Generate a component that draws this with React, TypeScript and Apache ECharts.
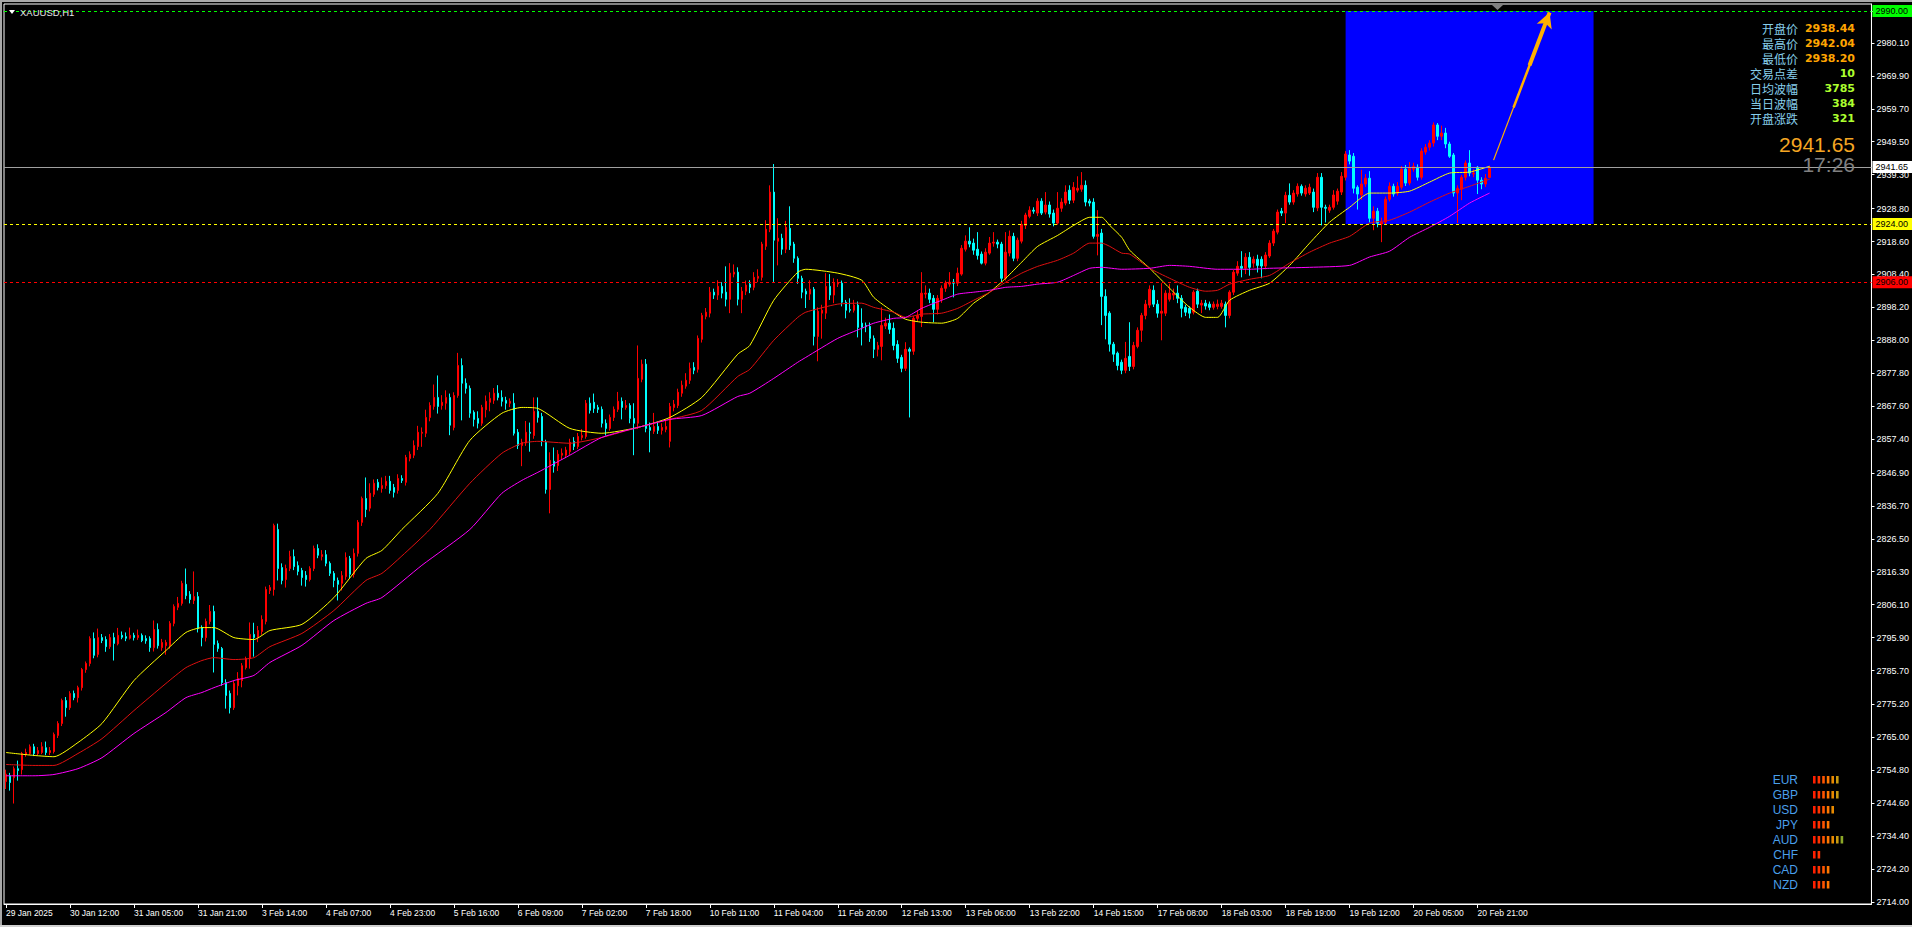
import React, { useEffect, useRef } from 'react';
import * as echarts from 'echarts';

// ---------- axis labels ----------
const xTickLabels = [
  '29 Jan 2025', '30 Jan 12:00', '31 Jan 05:00', '31 Jan 21:00', '3 Feb 14:00', '4 Feb 07:00',
  '4 Feb 23:00', '5 Feb 16:00', '6 Feb 09:00', '7 Feb 02:00', '7 Feb 18:00', '10 Feb 11:00',
  '11 Feb 04:00', '11 Feb 20:00', '12 Feb 13:00', '13 Feb 06:00', '13 Feb 22:00', '14 Feb 15:00',
  '17 Feb 08:00', '18 Feb 03:00', '18 Feb 19:00', '19 Feb 12:00', '20 Feb 05:00', '20 Feb 21:00',
];
const yTickValues = [
  2714.0, 2724.2, 2734.4, 2744.6, 2754.8, 2765.0, 2775.2, 2785.7, 2795.9, 2806.1, 2816.3, 2826.5,
  2836.7, 2846.9, 2857.4, 2867.6, 2877.8, 2888.0, 2898.2, 2908.4, 2918.6, 2928.8, 2939.3, 2949.5,
  2959.7, 2969.9, 2980.1, 2990.0,
];

// ---------- candles: [open, high, low, close] ----------
const candlesA: number[][] = [
  [2751.3, 2755, 2749, 2753.6], [2753.1, 2754, 2748.5, 2751.0], [2752.5, 2756, 2744.5, 2755.3], [2755.3, 2757.8, 2751.6, 2754.7],
  [2755.0, 2760.5, 2753.5, 2760.0], [2759.7, 2761.5, 2759, 2760.3], [2760.0, 2762.8, 2759.5, 2762.1], [2762.1, 2763, 2759.2, 2760.0],
  [2760.0, 2762, 2759.5, 2760.9], [2760.3, 2763.5, 2759.8, 2762.1], [2761.8, 2763.7, 2759.5, 2760.3], [2760.3, 2762, 2759.5, 2760.9],
  [2760.6, 2766.5, 2760, 2765.9], [2765.6, 2770, 2764.8, 2769.3], [2769.3, 2777, 2768.5, 2776.4], [2776.4, 2777.5, 2771.4, 2774.2],
  [2774.2, 2779.3, 2773.5, 2778.6], [2778.6, 2779.5, 2776.5, 2777.3], [2777.3, 2781, 2775.8, 2780.4], [2780.4, 2786.5, 2779.5, 2786.0],
  [2786.0, 2788.5, 2785, 2787.9], [2787.9, 2796.3, 2787, 2795.6], [2795.6, 2797.5, 2789.5, 2790.4], [2790.7, 2798.7, 2789.8, 2795.9],
  [2795.9, 2797.0, 2794.2, 2795.0], [2795.3, 2796.3, 2791.5, 2793.1], [2793.1, 2797, 2792.4, 2795.9], [2795.9, 2797.4, 2788.8, 2794.1],
  [2794.0, 2798.9, 2793.5, 2796.6], [2796.6, 2797.8, 2795.4, 2796.0], [2796.2, 2797.5, 2794.8, 2795.7], [2795.7, 2799, 2795.3, 2796.6],
  [2796.6, 2797.4, 2795, 2795.9], [2795.9, 2798.4, 2795.2, 2796.6], [2796.6, 2797.2, 2794.5, 2795.0], [2795.6, 2796.6, 2794, 2794.9],
  [2795.6, 2796.3, 2791.5, 2792.8], [2792.8, 2801.2, 2791.6, 2798.4], [2798.4, 2800.3, 2792.5, 2793.4], [2792.8, 2795.5, 2791.8, 2794.4],
  [2793.4, 2795.2, 2790.6, 2794.4], [2793.4, 2801, 2792.5, 2800.3], [2800.3, 2806.2, 2799.4, 2805.5], [2805.3, 2808.5, 2804.4, 2806.5],
  [2806.5, 2813.5, 2805.8, 2812.7], [2812.4, 2817.3, 2807.8, 2808.9], [2809.3, 2810.3, 2806.5, 2807.7], [2807.4, 2816.4, 2806.3, 2808.6],
  [2808.6, 2810, 2797.5, 2798.7], [2799.0, 2799.7, 2793.2, 2795.9], [2795.9, 2801.8, 2794.7, 2800.9], [2800.9, 2806, 2800, 2804.0],
  [2804.0, 2805.8, 2785.1, 2793.8], [2794.1, 2795, 2791.5, 2792.5], [2792.5, 2793, 2781, 2782.0], [2782.0, 2783, 2773.9, 2778.0],
  [2778.6, 2779.5, 2772.4, 2774.2], [2774.2, 2782.5, 2773.5, 2781.7], [2781.0, 2785.2, 2778, 2783.2], [2782.6, 2788, 2780.5, 2787.2],
  [2786.6, 2790, 2786, 2789.4], [2789.4, 2800.6, 2786.3, 2796.9], [2796.9, 2800.5, 2790, 2795.9], [2795.9, 2799.5, 2794.5, 2798.1],
  [2797.8, 2802.8, 2796.8, 2801.5], [2800.9, 2811.7, 2800, 2810.8], [2810.5, 2812.2, 2809.4, 2811.4], [2810.8, 2831.2, 2808.9, 2830.6],
  [2829.4, 2831.2, 2813.6, 2817.3], [2817.6, 2818.9, 2812.4, 2813.6], [2813.9, 2818.5, 2811.4, 2817.3], [2817.3, 2822.8, 2816.5, 2821.0],
  [2821.0, 2823.2, 2816.8, 2817.9], [2818.2, 2819.5, 2815.2, 2816.4], [2816.7, 2817.5, 2812.0, 2814.5], [2815.2, 2816.5, 2811.7, 2813.9],
  [2813.9, 2818, 2813.3, 2817.3], [2817.3, 2824.4, 2816.5, 2823.5], [2823.5, 2824.8, 2820.5, 2821.4], [2821.0, 2823, 2819.8, 2821.6],
  [2821.6, 2823, 2818, 2818.9], [2818.9, 2819.5, 2815, 2815.8], [2815.8, 2816.5, 2811.5, 2813.6], [2813.6, 2814.5, 2807.4, 2812.4],
  [2812.7, 2816.5, 2810.5, 2815.1], [2814.8, 2822.3, 2813.8, 2820.7], [2820.4, 2821.2, 2814.3, 2815.5], [2815.5, 2823.5, 2814.5, 2822.0],
  [2822.0, 2832.3, 2821, 2831.6], [2831.6, 2839.6, 2830.5, 2839.0], [2839.0, 2845.5, 2833.2, 2835.6], [2836.0, 2843.7, 2835, 2840.6],
  [2840.3, 2844.9, 2839.5, 2843.7],
];
const candlesB: number[][] = [
  [2844.0, 2845, 2841.5, 2842.4], [2842.1, 2845.5, 2840.8, 2843.0], [2843.0, 2846, 2842, 2844.3], [2844.3, 2846, 2840.5, 2841.5],
  [2842.4, 2843.5, 2839.3, 2840.9], [2841.5, 2846.5, 2840.5, 2845.2], [2845.2, 2846.2, 2843.8, 2844.6], [2844.0, 2852.5, 2843, 2851.7],
  [2851.4, 2853.6, 2850.5, 2852.7], [2852.4, 2857.0, 2851.5, 2855.4], [2855.1, 2861.5, 2854, 2859.5], [2859.2, 2861, 2855, 2859.5],
  [2859.2, 2866.5, 2858, 2864.1], [2864.1, 2868.8, 2862.9, 2867.8], [2867.5, 2874.3, 2866.5, 2870.3], [2870.3, 2877.1, 2865.3, 2867.5],
  [2867.8, 2871, 2866.5, 2868.8], [2868.5, 2872.5, 2866.5, 2870.3], [2870.3, 2871.5, 2858.6, 2861.7], [2861.0, 2871.9, 2860.1, 2870.9],
  [2870.9, 2884.1, 2870.2, 2880.2], [2880.2, 2882.4, 2863.2, 2874.7], [2874.7, 2876.2, 2871.5, 2873.1], [2873.1, 2874, 2864, 2865.4],
  [2865.7, 2866.3, 2861.3, 2863.5], [2863.8, 2866, 2860.7, 2862.3], [2862.3, 2868, 2861.5, 2867.2], [2866.5, 2870.9, 2864.1, 2869.1],
  [2868.8, 2871.9, 2866, 2870.0], [2869.4, 2873.2, 2868.3, 2871.6], [2871.6, 2874.1, 2869.4, 2870.3], [2870.3, 2872.5, 2867.5, 2869.1],
  [2869.4, 2870.5, 2866.5, 2868.5], [2868.5, 2870, 2867.3, 2869.1], [2868.5, 2871.6, 2858.5, 2859.2], [2859.5, 2860.5, 2854.3, 2855.4],
  [2855.4, 2857.5, 2849, 2856.4], [2856.2, 2863, 2855.3, 2859.5], [2859.5, 2862.5, 2853.5, 2859.2], [2858.5, 2870.3, 2857.5, 2866.0],
  [2866.0, 2870.3, 2862.5, 2864.1], [2864.4, 2865.5, 2855.2, 2856.7], [2856.4, 2857.2, 2840.5, 2841.8], [2841.8, 2853.3, 2834.4, 2850.8],
  [2850.5, 2854.8, 2847, 2849.0], [2849.2, 2854, 2847.5, 2852.7], [2852.4, 2854.5, 2851, 2853.0], [2852.4, 2855, 2851.5, 2854.0],
  [2853.5, 2857.5, 2852.5, 2856.4], [2856.7, 2858, 2854, 2855.1], [2855.1, 2859.3, 2854.3, 2858.2], [2857.9, 2860.5, 2857, 2858.5],
  [2858.2, 2869.5, 2857.5, 2868.5], [2868.5, 2870.3, 2865.3, 2866.3], [2868.8, 2871.5, 2865.5, 2866.9], [2867.2, 2868, 2865.5, 2866.6],
  [2866.6, 2867.5, 2861, 2862.3], [2862.3, 2863.5, 2858.5, 2860.7], [2860.7, 2865, 2860, 2864.1], [2864.1, 2867.5, 2863, 2866.6],
  [2866.6, 2872, 2865.8, 2869.1], [2869.1, 2870.3, 2863.5, 2867.2], [2867.2, 2869.5, 2866.5, 2867.8], [2867.8, 2868.5, 2862.3, 2863.8],
  [2863.8, 2868.5, 2852.4, 2862.3], [2862.3, 2886.4, 2860.5, 2876.2], [2875.9, 2882, 2875, 2880.6], [2880.6, 2882.2, 2859.5, 2860.7],
  [2861.0, 2862.5, 2853.3, 2860.1], [2859.8, 2865.5, 2859, 2861.3], [2861.3, 2862.5, 2859, 2860.1], [2860.1, 2862.3, 2858.8, 2861.0],
  [2860.4, 2863.5, 2859.5, 2861.3], [2856.7, 2868.6, 2854.8, 2867.5], [2867.2, 2869.5, 2866, 2868.2], [2867.8, 2873, 2867, 2871.9],
  [2871.6, 2875.5, 2870.5, 2874.1], [2873.8, 2877.8, 2873, 2875.6], [2875.6, 2881.1, 2874.5, 2879.3], [2879.6, 2881.2, 2877.5, 2878.7],
  [2879.0, 2889.5, 2878, 2888.6], [2888.3, 2896.5, 2887.3, 2895.7], [2895.4, 2898, 2894.5, 2896.7], [2896.4, 2904.5, 2895.1, 2902.9],
  [2902.9, 2904, 2900.8, 2902.0], [2902.0, 2906.6, 2900.5, 2904.7], [2904.7, 2906, 2901, 2902.6], [2902.9, 2910.9, 2898.5, 2900.7],
  [2900.7, 2911.9, 2896.4, 2908.8], [2908.5, 2911.5, 2907.5, 2909.1], [2909.1, 2910.6, 2898.8, 2900.7], [2900.7, 2904.5, 2896.4, 2903.2],
  [2903.2, 2906.5, 2902, 2905.1], [2905.4, 2906.6, 2902.6, 2904.4],
];
const candlesC: number[][] = [
  [2904.4, 2909.1, 2903.5, 2907.5], [2907.2, 2910, 2906, 2907.8], [2907.5, 2918.5, 2906.5, 2917.8], [2917.1, 2925.2, 2916, 2922.4],
  [2922.4, 2936.0, 2921.5, 2933.9], [2933.9, 2942.6, 2906.1, 2919.0], [2918.7, 2925.8, 2911.2, 2919.6], [2919.6, 2921, 2914.5, 2916.2],
  [2916.2, 2925, 2915, 2923.0], [2922.7, 2929.5, 2916, 2917.4], [2917.8, 2918.5, 2912, 2913.4], [2913.4, 2914, 2905.5, 2907.2],
  [2907.2, 2908, 2901, 2902.9], [2903.2, 2904, 2898, 2902.3], [2902.3, 2906.6, 2900.5, 2903.8], [2903.8, 2904.5, 2886.4, 2889.2],
  [2889.2, 2898.2, 2881.5, 2897.0], [2896.4, 2899, 2888.5, 2897.3], [2896.4, 2908.8, 2894.6, 2904.7], [2904.7, 2908.5, 2900.5, 2902.0],
  [2902.0, 2907.2, 2899.5, 2905.7], [2905.4, 2907, 2904.5, 2905.7], [2905.7, 2906.5, 2898.5, 2899.8], [2899.8, 2900.5, 2894.8, 2897.3],
  [2897.5, 2901, 2896.6, 2897.3], [2897.3, 2900.5, 2896.6, 2898.9], [2898.9, 2900, 2888.9, 2892.0], [2893.3, 2897.9, 2886.4, 2892.0],
  [2892.6, 2893.5, 2890.5, 2892.3], [2892.3, 2893.5, 2887.5, 2888.6], [2888.6, 2889.5, 2882.5, 2885.2], [2885.2, 2887.5, 2883, 2886.4],
  [2886.1, 2898.2, 2881.8, 2892.6], [2892.4, 2895, 2891.5, 2893.3], [2893.3, 2896, 2890, 2891.4], [2891.7, 2893.5, 2884.9, 2886.4],
  [2886.7, 2888, 2881, 2882.4], [2882.7, 2883.5, 2878.1, 2879.3], [2879.3, 2887.4, 2878.5, 2885.2], [2885.2, 2885.8, 2864.1, 2884.6],
  [2884.6, 2895.5, 2883.5, 2894.8], [2894.8, 2897.3, 2894, 2895.7], [2895.4, 2909.1, 2892.1, 2902.6], [2902.3, 2905, 2901, 2902.6],
  [2902.6, 2904, 2899.5, 2900.7], [2901.0, 2902, 2893.6, 2897.6], [2897.6, 2902, 2896, 2901.0], [2900.7, 2905, 2899.6, 2904.1],
  [2904.1, 2906.5, 2903, 2905.7], [2905.4, 2909.1, 2904.6, 2906.0], [2906.0, 2907, 2901.3, 2905.7], [2905.7, 2910.5, 2904.8, 2908.8],
  [2908.5, 2917.5, 2908, 2916.5], [2916.2, 2920.5, 2915.5, 2918.7], [2918.7, 2923.0, 2916.8, 2917.8], [2918.1, 2919.5, 2914.5, 2915.9],
  [2916.2, 2921.5, 2913, 2914.3], [2914.7, 2915.5, 2911.5, 2911.9], [2911.9, 2916.5, 2911.2, 2915.3], [2915.0, 2920, 2914.5, 2918.1],
  [2918.1, 2921.5, 2917, 2918.4], [2918.4, 2919.2, 2916.5, 2917.8], [2917.8, 2918.5, 2905.7, 2907.2], [2907.2, 2921.5, 2906.5, 2915.3],
  [2915.0, 2922, 2914, 2920.2], [2920.2, 2921.3, 2912.5, 2913.4], [2913.4, 2919.8, 2912.5, 2919.0], [2918.7, 2925, 2918, 2923.9],
  [2923.6, 2927.5, 2922.5, 2926.8], [2926.4, 2929.5, 2925.8, 2928.3], [2928.3, 2929.2, 2927.2, 2928.0], [2927.4, 2932, 2926.5, 2931.1],
  [2931.1, 2932.0, 2926.8, 2927.4], [2927.7, 2933.9, 2927, 2929.9], [2929.9, 2931, 2926, 2927.1], [2927.4, 2928.5, 2923.3, 2924.3],
  [2924.3, 2933.9, 2923.8, 2928.9], [2928.9, 2932, 2927.8, 2930.8], [2930.5, 2936.0, 2929.8, 2933.9], [2934.5, 2936, 2930.2, 2931.4],
  [2931.4, 2937, 2930.5, 2935.4], [2934.5, 2938.8, 2933.8, 2935.1], [2934.8, 2940.1, 2934, 2936.0], [2936.0, 2937.5, 2929.5, 2930.8],
  [2931.1, 2931.8, 2929.5, 2930.5], [2930.8, 2932, 2919.5, 2920.2], [2920.2, 2928.3, 2914.3, 2920.8], [2921.2, 2922.5, 2892.7, 2901.6],
  [2901.6, 2903.8, 2888.3, 2895.7], [2896.4, 2897, 2884.5, 2886.8], [2886.8, 2887.5, 2881.3, 2883.7], [2884.0, 2884.5, 2878.7, 2880.2],
  [2881.2, 2882, 2877.5, 2878.7], [2878.7, 2887.5, 2877.8, 2882.4], [2883.0, 2893.6, 2878.5, 2879.9], [2879.9, 2887.5, 2879, 2886.4],
  [2886.1, 2892, 2885.5, 2891.1],
];
const candlesD: number[][] = [
  [2891.1, 2896.5, 2887.5, 2895.7], [2895.7, 2900.5, 2894.5, 2899.2], [2898.9, 2905, 2898, 2903.8], [2903.5, 2905, 2898.3, 2899.2],
  [2899.2, 2900.5, 2895, 2896.4], [2896.4, 2905.7, 2888.0, 2897.0], [2896.4, 2903.5, 2895.5, 2902.6], [2900.7, 2905.5, 2900, 2902.6],
  [2902.0, 2904, 2900.5, 2902.6], [2902.6, 2905, 2899.5, 2901.0], [2901.0, 2902, 2895.1, 2897.9], [2898.2, 2899, 2895.5, 2896.7],
  [2897.9, 2898.5, 2894.8, 2896.4], [2896.7, 2903.5, 2896, 2902.9], [2903.2, 2904, 2898, 2899.2], [2898.9, 2900.5, 2896.4, 2899.5],
  [2899.5, 2900.5, 2897.5, 2898.6], [2899.2, 2900, 2897.3, 2898.2], [2898.2, 2900, 2897.5, 2899.2], [2898.5, 2900.6, 2897.6, 2899.2],
  [2898.5, 2900.5, 2897.8, 2899.5], [2899.2, 2900, 2892.0, 2895.7], [2895.7, 2903.5, 2894.8, 2902.9], [2902.9, 2909.8, 2902, 2909.1],
  [2908.8, 2912.5, 2908, 2910.9], [2910.9, 2915.6, 2907.5, 2910.3], [2910.3, 2915, 2908.5, 2913.7], [2913.7, 2915.3, 2908, 2910.6],
  [2911.9, 2914, 2910.5, 2913.1], [2913.1, 2914.5, 2909, 2911.2], [2913.1, 2914, 2907.2, 2911.0], [2911.0, 2915.3, 2910, 2914.4],
  [2914.1, 2919, 2913.5, 2918.1], [2918.1, 2922.5, 2917.2, 2921.8], [2921.5, 2928.5, 2920.8, 2927.7], [2928.0, 2929, 2926.5, 2927.4],
  [2927.4, 2934, 2924.3, 2932.9], [2932.9, 2936.6, 2930, 2930.8], [2930.8, 2934.5, 2930, 2933.6], [2933.3, 2936.6, 2932.5, 2935.7],
  [2935.7, 2936.3, 2932.8, 2933.6], [2933.3, 2936, 2932.5, 2935.1], [2933.6, 2936.5, 2933, 2935.4], [2933.9, 2935, 2927.7, 2929.2],
  [2929.0, 2939.8, 2928, 2938.5], [2938.5, 2939.8, 2923.6, 2929.2], [2929.2, 2930, 2924.5, 2928.9], [2928.3, 2930, 2927.5, 2929.2],
  [2929.2, 2934.5, 2928.5, 2933.0], [2931.1, 2935, 2930, 2934.2], [2933.9, 2940.1, 2933, 2938.8], [2938.5, 2946.6, 2937.5, 2945.7],
  [2945.4, 2946.9, 2942.5, 2943.5], [2945.0, 2946, 2933.5, 2935.1], [2935.4, 2936, 2928.5, 2933.3], [2933.0, 2940.8, 2931.5, 2936.4],
  [2936.4, 2939.5, 2935.5, 2938.2], [2938.2, 2940.4, 2924.5, 2925.8], [2925.8, 2929.5, 2922.1, 2928.0], [2928.0, 2929, 2923, 2924.3],
  [2924.0, 2926, 2918.4, 2924.6], [2924.6, 2932.5, 2923.8, 2931.7], [2931.7, 2936.9, 2931, 2935.7], [2935.7, 2936.5, 2932.5, 2933.3],
  [2933.6, 2937, 2932.8, 2935.7], [2935.4, 2942, 2934.7, 2941.0], [2941.0, 2942.3, 2935.8, 2936.7], [2936.7, 2943.2, 2936, 2941.3],
  [2941.0, 2943, 2940.2, 2941.9], [2941.6, 2942.5, 2937.5, 2938.5], [2938.5, 2947.5, 2937.8, 2946.6], [2946.3, 2948.8, 2945.5, 2947.8],
  [2947.8, 2950, 2946.8, 2949.1], [2949.1, 2955.5, 2948, 2954.7], [2954.7, 2955.3, 2950, 2951.2], [2951.2, 2954.5, 2950, 2952.2],
  [2952.2, 2953.8, 2947.5, 2948.8], [2948.8, 2949.5, 2944.5, 2945.0], [2945.4, 2946, 2932.5, 2933.6], [2933.6, 2936, 2924.3, 2935.1],
  [2934.8, 2939.2, 2931.4, 2938.5], [2938.5, 2943.7, 2937.5, 2942.9], [2942.9, 2946.9, 2938.8, 2939.8], [2939.5, 2941, 2938.5, 2939.8],
  [2941.6, 2942, 2933.3, 2937.6], [2937.6, 2938.5, 2934.8, 2936.4], [2936.4, 2939.5, 2935.5, 2938.2], [2938.44, 2942.04, 2938.2, 2941.65],
];

// ---------- moving averages: [bar index, price] ----------
const maYellow: number[][] = [
  [0, 2760.3], [7, 2759.4], [12, 2759.0], [18, 2763.4], [24, 2769.3], [32, 2782.6], [40, 2791.9], [45, 2797.5], [49, 2799.0],
  [52, 2799.0], [57, 2795.9], [62, 2795.3], [66, 2798.1], [74, 2800.0], [82, 2808.3], [90, 2820.4], [94, 2822.9], [99, 2829.4],
  [108, 2840.6], [116, 2857.0], [124, 2865.4], [129, 2867.2], [133, 2866.9], [141, 2860.7], [149, 2859.2], [158, 2861.0],
  [166, 2864.1], [174, 2870.3], [183, 2883.7], [186, 2886.4], [192, 2900.4], [198, 2909.1], [200, 2910.0], [208, 2908.8],
  [214, 2906.6], [217, 2901.3], [222, 2896.7], [225, 2894.5], [229, 2893.6], [234, 2893.3], [238, 2894.8], [242, 2899.5],
  [246, 2902.9], [250, 2907.2], [254, 2912.2], [258, 2917.1], [263, 2920.5], [267, 2923.6], [271, 2926.1], [274, 2926.1],
  [276, 2923.6], [279, 2919.9], [281, 2915.9], [286, 2910.3], [291, 2904.1], [296, 2898.2], [300, 2895.1], [303, 2895.1],
  [306, 2900.4], [311, 2903.5], [316, 2905.7], [321, 2911.2], [326, 2918.1], [331, 2924.6], [336, 2929.2], [341, 2933.6],
  [346, 2933.6], [351, 2934.2], [356, 2937.0], [361, 2939.8], [366, 2940.1], [371, 2941.9],
];
const maRed: number[][] = [
  [0, 2756.6], [7, 2756.3], [12, 2756.3], [18, 2760.0], [24, 2764.6], [32, 2773.3], [40, 2781.7], [45, 2786.6], [49, 2788.8],
  [52, 2789.7], [57, 2789.1], [62, 2789.7], [66, 2793.1], [74, 2797.2], [82, 2804.3], [90, 2813.6], [94, 2815.8], [99, 2821.2],
  [106, 2829.4], [116, 2843.7], [124, 2853.0], [129, 2856.1], [133, 2856.7], [141, 2856.1], [149, 2857.9], [158, 2861.0],
  [166, 2863.5], [174, 2866.3], [183, 2876.8], [186, 2879.0], [192, 2888.0], [198, 2895.1], [200, 2896.7], [208, 2899.2],
  [214, 2899.5], [217, 2898.2], [222, 2896.7], [225, 2895.1], [229, 2896.1], [234, 2896.4], [238, 2897.9], [242, 2900.4],
  [246, 2902.9], [250, 2906.0], [254, 2908.8], [258, 2910.9], [263, 2912.8], [267, 2915.0], [271, 2918.1], [274, 2918.1],
  [276, 2917.1], [279, 2915.0], [281, 2914.7], [286, 2910.3], [291, 2907.2], [296, 2904.4], [300, 2903.2], [303, 2903.5],
  [306, 2905.4], [311, 2906.9], [316, 2908.1], [321, 2911.9], [326, 2915.3], [331, 2918.1], [336, 2920.2], [341, 2924.3],
  [346, 2925.2], [351, 2927.7], [356, 2930.8], [361, 2933.6], [366, 2935.7], [371, 2937.9],
];
const maMagenta: number[][] = [
  [0, 2753.1], [7, 2753.1], [12, 2753.5], [18, 2755.3], [24, 2758.7], [32, 2766.2], [40, 2772.7], [45, 2777.3], [49, 2778.9],
  [52, 2780.4], [57, 2782.6], [62, 2784.2], [66, 2788.2], [74, 2793.5], [82, 2801.2], [90, 2806.5], [94, 2808.3], [104, 2818.3],
  [116, 2829.4], [124, 2840.6], [129, 2844.6], [133, 2847.1], [141, 2852.4], [149, 2857.9], [158, 2861.0], [166, 2863.5],
  [174, 2864.7], [183, 2870.6], [186, 2871.6], [192, 2876.2], [198, 2881.2], [200, 2882.7], [208, 2888.6], [214, 2891.7],
  [217, 2893.3], [222, 2894.8], [225, 2895.1], [229, 2897.9], [234, 2900.4], [238, 2902.3], [242, 2902.9], [246, 2903.5],
  [250, 2904.4], [254, 2904.7], [258, 2905.4], [263, 2906.0], [267, 2908.1], [271, 2910.3], [274, 2910.6], [279, 2910.0],
  [286, 2910.3], [291, 2911.2], [296, 2910.9], [303, 2910.0], [311, 2910.0], [316, 2910.3], [326, 2910.6], [336, 2911.2],
  [341, 2913.8], [346, 2915.6], [351, 2919.9], [356, 2923.0], [361, 2926.4], [366, 2930.5], [371, 2933.6],
];

// ---------- levels & annotations ----------
const levelPrices = [2990.0, 2924.0, 2906.0];
const levelColors = ['#00FF00', '#FFFF00', '#FF0000'];
const lastPrice = 2941.65;
const countdown = '17:26';
const zoneBars = [335, 397];
const zonePrices = [2990.0, 2924.0];
// arrow drawn as three overlapping segments along the same line (tapered look)
const arrowTip = [386, 2989.5];
const arrowStarts = [[372, 2943.8], [377, 2960.1], [381, 2973.2]];
const arrowWidths = [1.2, 2.5, 4];

const infoLabels = ['开盘价', '最高价', '最低价', '交易点差', '日均波幅', '当日波幅', '开盘涨跌'];
const infoValues = ['2938.44', '2942.04', '2938.20', '10', '3785', '384', '321'];
const infoValueColors = ['#FFA500', '#FFA500', '#FFA500', '#ADFF2F', '#ADFF2F', '#ADFF2F', '#ADFF2F'];

const currencies = ['EUR', 'GBP', 'USD', 'JPY', 'AUD', 'CHF', 'CAD', 'NZD'];
const strengths = [6, 6, 5, 4, 7, 2, 4, 4];
const strengthColors = ['#FF1E00', '#FF3300', '#FF5500', '#FF7700', '#E88A00', '#C89A10', '#8CA828'];

const TOTAL_SLOTS = 467;
const LABEL_STEP = 16;

export default function App() {
  const ref = useRef<HTMLDivElement>(null);

  useEffect(() => {
    if (!ref.current) return;
    const chart = echarts.init(ref.current, null, { renderer: 'svg' });

    const candles = [...candlesA, ...candlesB, ...candlesC, ...candlesD];
    const kData = candles.map((c) => [c[0], c[3], c[2], c[1]]);
    const categories = Array.from({ length: TOTAL_SLOTS }, (_, i) => String(i));
    const showTick = (i: number) => i % LABEL_STEP === 0 && i / LABEL_STEP < xTickLabels.length;

    const levelLines = levelPrices.map((p, k) => ({
      yAxis: p,
      lineStyle: { color: levelColors[k], type: [3, 3], width: 1 },
      label: {
        show: true,
        position: 'end',
        distance: 1,
        formatter: p.toFixed(2),
        color: '#000',
        backgroundColor: levelColors[k],
        padding: [2, 4, 1, 3],
        fontSize: 9,
        fontFamily: 'Liberation Sans',
      },
    }));

    const arrowLines = arrowStarts.map((s, k) => [
      { coord: s, symbol: 'none', lineStyle: { color: '#FFB000', width: arrowWidths[k], type: 'solid' }, label: { show: false } },
      {
        coord: arrowTip,
        symbol: k === arrowStarts.length - 1 ? 'arrow' : 'none',
        symbolSize: [12, 15],
        lineStyle: { color: '#FFB000', width: arrowWidths[k], type: 'solid' },
        label: { show: false },
      },
    ]);

    const graphics: any[] = [];
    // window frame
    graphics.push({ type: 'rect', shape: { x: 0, y: 0, width: 1912, height: 2 }, style: { fill: '#A8A8A8' }, z: 100 });
    graphics.push({ type: 'rect', shape: { x: 0, y: 0, width: 2, height: 927 }, style: { fill: '#A8A8A8' }, z: 100 });
    graphics.push({ type: 'rect', shape: { x: 0, y: 925, width: 1912, height: 2 }, style: { fill: '#D0D0D0' }, z: 100 });
    // title
    graphics.push({ type: 'polygon', shape: { points: [[9, 10], [15, 10], [12, 14]] }, style: { fill: '#FFFFFF' }, z: 100 });
    graphics.push({
      type: 'text', x: 20, y: 12, z: 100,
      style: { text: 'XAUUSD,H1', fill: '#E6E6E6', font: '9.5px "Liberation Sans"', verticalAlign: 'middle', align: 'left' },
    });
    // chart-shift marker
    graphics.push({ type: 'polygon', shape: { points: [[1492, 5], [1503, 5], [1497.5, 10]] }, style: { fill: '#808080' }, z: 100 });
    // info panel
    infoLabels.forEach((t, k) => {
      const y = 28.7 + k * 14.93;
      graphics.push({
        type: 'text', x: 1798, y, z: 100,
        style: { text: t, fill: '#87CEEB', font: '12px "Noto Sans CJK SC"', align: 'right', verticalAlign: 'middle' },
      });
      graphics.push({
        type: 'text', x: 1855, y, z: 100,
        style: { text: infoValues[k], fill: infoValueColors[k], font: 'bold 11px "DejaVu Sans"', align: 'right', verticalAlign: 'middle' },
      });
    });
    graphics.push({
      type: 'text', x: 1855, y: 144, z: 100,
      style: { text: lastPrice.toFixed(2), fill: '#F5A623', font: '21px "Liberation Sans"', align: 'right', verticalAlign: 'middle' },
    });
    graphics.push({
      type: 'text', x: 1855, y: 164, z: 100,
      style: { text: countdown, fill: '#808080', font: '21px "Liberation Sans"', align: 'right', verticalAlign: 'middle' },
    });
    // currency strength legend
    currencies.forEach((c, k) => {
      const y = 779.5 + k * 15;
      graphics.push({
        type: 'text', x: 1798, y, z: 100,
        style: { text: c, fill: '#4A9FEA', font: '12px "Liberation Sans"', align: 'right', verticalAlign: 'middle' },
      });
      for (let j = 0; j < strengths[k]; j++) {
        graphics.push({
          type: 'rect', z: 100,
          shape: { x: 1813 + j * 4.6, y: y - 3.5, width: 2.6, height: 7.5 },
          style: { fill: strengthColors[j] },
        });
      }
    });

    const option: any = {
      animation: false,
      backgroundColor: '#000000',
      grid: {
        left: 4, top: 4, width: 1868, height: 900,
        show: true, borderColor: '#FFFFFF', borderWidth: 1, backgroundColor: 'transparent',
      },
      xAxis: {
        type: 'category',
        data: categories,
        boundaryGap: true,
        axisLine: { show: true, lineStyle: { color: '#FFFFFF', width: 1 } },
        axisTick: { show: true, alignWithLabel: true, interval: (i: number) => showTick(i), length: 4, lineStyle: { color: '#FFFFFF' } },
        axisLabel: {
          show: true,
          interval: (i: number) => showTick(i),
          formatter: (_v: string, i: number) => (showTick(i) ? xTickLabels[i / LABEL_STEP] : ''),
          color: '#FFFFFF',
          fontSize: 8.5,
          fontFamily: 'Liberation Sans',
          align: 'left',
          margin: 4,
          hideOverlap: false,
        },
        splitLine: { show: false },
      },
      yAxis: {
        type: 'value',
        position: 'right',
        min: 2713.38,
        max: 2992.17,
        scale: true,
        splitLine: { show: false },
        axisLine: { show: true, lineStyle: { color: '#FFFFFF', width: 1 } },
        axisTick: { show: true, customValues: yTickValues, length: 3, lineStyle: { color: '#FFFFFF' } },
        axisLabel: {
          show: true,
          customValues: yTickValues,
          formatter: (v: number) => v.toFixed(2),
          color: '#FFFFFF',
          fontSize: 9,
          fontFamily: 'Liberation Sans',
          margin: 5,
        },
      },
      series: [
        {
          type: 'line',
          name: 'zone',
          z: 1,
          data: [],
          silent: true,
          markArea: {
            silent: true,
            itemStyle: { color: '#0000FF', opacity: 1 },
            data: [[{ coord: [zoneBars[0], zonePrices[0]] }, { coord: [zoneBars[1], zonePrices[1]] }]],
          },
        },
        {
          type: 'candlestick',
          name: 'XAUUSD',
          z: 3,
          barWidth: 2,
          data: kData,
          itemStyle: {
            color: '#FF0000', color0: '#00FFFF',
            borderColor: '#FF0000', borderColor0: '#00FFFF', borderWidth: 1,
          },
          markLine: {
            silent: true,
            symbol: ['none', 'none'],
            precision: 2,
            data: [
              ...levelLines,
              {
                yAxis: lastPrice,
                lineStyle: { color: '#A0A0A0', type: 'solid', width: 1 },
                label: {
                  show: true, position: 'end', distance: 1, formatter: lastPrice.toFixed(2),
                  color: '#000', backgroundColor: '#FFFFFF', padding: [2, 4, 1, 3], fontSize: 9, fontFamily: 'Liberation Sans',
                },
              },
              ...arrowLines,
            ],
          },
        },
        {
          type: 'line', name: 'MA fast', z: 4, data: maYellow, symbol: 'none', smooth: 0.2,
          lineStyle: { color: '#FFFF00', width: 1 }, silent: true,
        },
        {
          type: 'line', name: 'MA mid', z: 4, data: maRed, symbol: 'none', smooth: 0.2,
          lineStyle: { color: '#E01010', width: 1 }, silent: true,
        },
        {
          type: 'line', name: 'MA slow', z: 4, data: maMagenta, symbol: 'none', smooth: 0.2,
          lineStyle: { color: '#FF00FF', width: 1 }, silent: true,
        },
      ],
      graphic: { elements: graphics },
    };

    chart.setOption(option);
    return () => chart.dispose();
  }, []);

  return (
    <div
      ref={ref}
      style={{ position: 'fixed', left: 0, top: 0, width: 1912, height: 927, background: '#000' }}
    />
  );
}
